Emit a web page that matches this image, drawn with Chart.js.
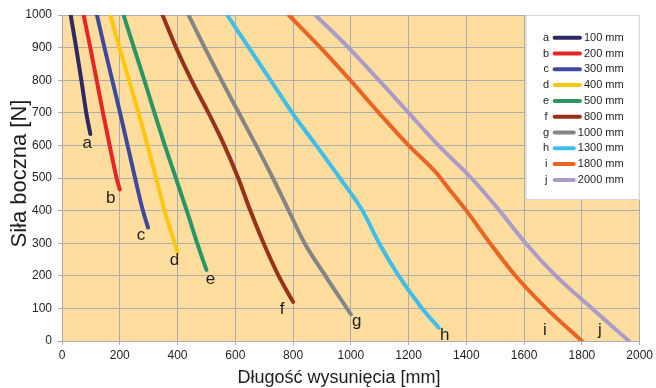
<!DOCTYPE html>
<html lang="pl">
<head>
<meta charset="utf-8">
<title>Siła boczna</title>
<script src="https://cdn.jsdelivr.net/npm/chart.js@4.4.1/dist/chart.umd.min.js"></script>
<style>
  html, body { margin: 0; padding: 0; background: #fff; }
  #wrap { width: 656px; height: 388px; }
</style>
</head>
<body>
<div id="wrap"><canvas id="chart" width="656" height="388"></canvas></div>
<script>
// dane: długość wysunięcia [mm] -> siła boczna [N]
const letters = ['a', 'b', 'c', 'd', 'e', 'f', 'g', 'h', 'i', 'j'];
const strokes = ['100 mm', '200 mm', '300 mm', '400 mm', '500 mm', '800 mm', '1000 mm', '1300 mm', '1800 mm', '2000 mm'];
const xTicks = [0, 200, 400, 600, 800, 1000, 1200, 1400, 1600, 1800, 2000];
const yTicks = [0, 100, 200, 300, 400, 500, 600, 700, 800, 900, 1000];

const lenA = [30, 49, 67, 84, 98];
const forceA = [1000, 900, 800, 700, 635];
const lenB = [75, 98, 120, 142, 165, 189, 200];
const forceB = [1000, 900, 800, 700, 600, 500, 465];
const lenC = [121, 147, 174, 201, 227, 253, 280, 298];
const forceC = [1000, 900, 800, 700, 600, 500, 400, 348];
const lenD = [167, 199, 232, 265, 296, 326, 355, 390, 400];
const forceD = [1000, 900, 800, 700, 600, 500, 400, 300, 273];
const lenE = [213, 249, 285, 320, 356, 394, 432, 468, 500];
const forceE = [1000, 900, 800, 700, 600, 500, 400, 300, 218];
const lenF = [348, 395, 448, 507, 562, 610, 652, 698, 750, 800];
const forceF = [1000, 900, 800, 700, 600, 500, 400, 300, 200, 120];
const lenG = [438, 494, 552, 612, 672, 730, 785, 840, 912, 1000];
const forceG = [1000, 900, 800, 700, 600, 500, 400, 300, 200, 82];
const lenH = [572, 647, 722, 797, 880, 962, 1040, 1098, 1166, 1247, 1304];
const forceH = [1000, 900, 800, 700, 600, 500, 400, 300, 200, 100, 41];
const lenI = [785, 895, 998, 1097, 1200, 1295, 1340, 1400, 1482, 1570, 1677, 1800];
const forceI = [1000, 900, 800, 700, 600, 517, 466, 400, 300, 200, 100, 0];
const lenJ = [877, 992, 1097, 1200, 1303, 1417, 1515, 1605, 1710, 1835, 1963];
const forceJ = [1000, 900, 800, 700, 600, 500, 400, 300, 200, 100, 0];

const allLen = [lenA, lenB, lenC, lenD, lenE, lenF, lenG, lenH, lenI, lenJ];
const allForce = [forceA, forceB, forceC, forceD, forceE, forceF, forceG, forceH, forceI, forceJ];

// style
const colors = ['#2d2a62', '#e42726', '#3e4a9b', '#fdc70f', '#2b9663', '#963219', '#858585', '#41bde9', '#eb6424', '#a99cc9'];
// przesunięcie liter a..j względem końca krzywej (px)
const labelOffsets = [[-3, 14], [-9, 14], [-7, 12], [-3, 13], [4, 14], [-11, 12], [6, 12], [6, 12], [-37, -6], [-29, -6]];
const font = '"Liberation Sans", Arial, Helvetica, sans-serif';
const textColor = '#1e1e1e';
const gridColor = '#adadad';
const plotBg = '#fedd9f';

const datasets = allLen.map((xs, i) => ({
  label: strokes[i],
  data: xs.map((x, k) => ({ x: x, y: allForce[i][k] })),
  showLine: true,
  borderColor: colors[i],
  backgroundColor: colors[i],
  borderWidth: 4,
  borderCapStyle: 'round',
  borderJoinStyle: 'round',
  cubicInterpolationMode: 'monotone',
  pointRadius: 0,
  clip: 0,
}));

// tło obszaru wykresu
const plotBackground = {
  id: 'plotBackground',
  beforeDraw(chart) {
    const { ctx, chartArea: a } = chart;
    ctx.save();
    ctx.fillStyle = plotBg;
    ctx.fillRect(a.left, a.top, a.right - a.left, a.bottom - a.top);
    ctx.restore();
  },
};

// legenda w prawym górnym rogu + litery przy krzywych
const overlay = {
  id: 'overlay',
  afterDatasetsDraw(chart) {
    const { ctx, chartArea: a } = chart;
    ctx.save();

    // litery na końcach krzywych
    ctx.font = '17px ' + font;
    ctx.fillStyle = textColor;
    ctx.textAlign = 'center';
    ctx.textBaseline = 'alphabetic';
    chart.data.datasets.forEach((ds, i) => {
      const pts = chart.getDatasetMeta(i).data;
      const last = pts[pts.length - 1];
      ctx.fillText(letters[i], last.x + labelOffsets[i][0], last.y + labelOffsets[i][1]);
    });

    // legenda
    const w = 114, h = 185;
    const x0 = a.right - w, y0 = a.top;
    ctx.fillStyle = '#fff';
    ctx.fillRect(x0, y0, w, h);
    ctx.strokeStyle = '#d4d4d4';
    ctx.lineWidth = 1;
    ctx.strokeRect(x0 + 0.5, y0 + 0.5, w - 1, h - 1);
    ctx.font = '11px ' + font;
    ctx.textBaseline = 'middle';
    chart.data.datasets.forEach((ds, i) => {
      const y = y0 + 22.7 + i * 15.8;
      ctx.fillStyle = textColor;
      ctx.textAlign = 'center';
      ctx.fillText(letters[i], x0 + 20.5, y);
      ctx.textAlign = 'right';
      ctx.fillText(strokes[i], x0 + 98, y);
      const tw = ctx.measureText(strokes[i]).width;
      ctx.strokeStyle = ds.borderColor;
      ctx.lineWidth = 4;
      ctx.lineCap = 'round';
      ctx.beginPath();
      ctx.moveTo(x0 + 29, y);
      ctx.lineTo(x0 + 98 - tw - 4, y);
      ctx.stroke();
    });
    ctx.restore();
  },
  afterDraw(chart) {
    const { ctx } = chart;
    ctx.save();
    ctx.fillStyle = textColor;
    ctx.textAlign = 'center';
    ctx.textBaseline = 'alphabetic';
    ctx.font = '18px ' + font;
    ctx.fillText('Długość wysunięcia [mm]', 339, 382.5);
    ctx.translate(25.5, 173.5);
    ctx.rotate(-Math.PI / 2);
    ctx.font = '22px ' + font;
    ctx.fillText('Siła boczna [N]', 0, 0);
    ctx.restore();
  },
};

new Chart(document.getElementById('chart'), {
  type: 'scatter',
  data: { datasets: datasets },
  plugins: [plotBackground, overlay],
  options: {
    responsive: false,
    animation: false,
    layout: { padding: { top: 15, right: 14, left: 0, bottom: 0 } },
    plugins: {
      legend: { display: false },
      tooltip: { enabled: false },
    },
    scales: {
      x: {
        type: 'linear',
        min: 0,
        max: 2000,
        afterBuildTicks: (s) => { s.ticks = xTicks.map((v) => ({ value: v })); },
        afterFit: (s) => { s.height = 47; },
        grid: { color: gridColor, lineWidth: 1, tickLength: 4 },
        border: { color: gridColor },
        ticks: {
          font: { family: font, size: 12 },
          color: textColor,
          padding: 3,
          maxRotation: 0,
          autoSkip: false,
          callback: (v) => String(v),
        },
      },
      y: {
        type: 'linear',
        min: 0,
        max: 1000,
        afterBuildTicks: (s) => { s.ticks = yTicks.map((v) => ({ value: v })); },
        afterFit: (s) => { s.width = 62; },
        grid: { color: gridColor, lineWidth: 1, tickLength: 4 },
        border: { color: gridColor },
        ticks: {
          font: { family: font, size: 12 },
          color: textColor,
          padding: 6,
          autoSkip: false,
          callback: (v) => String(v),
        },
      },
    },
  },
});
</script>
</body>
</html>
